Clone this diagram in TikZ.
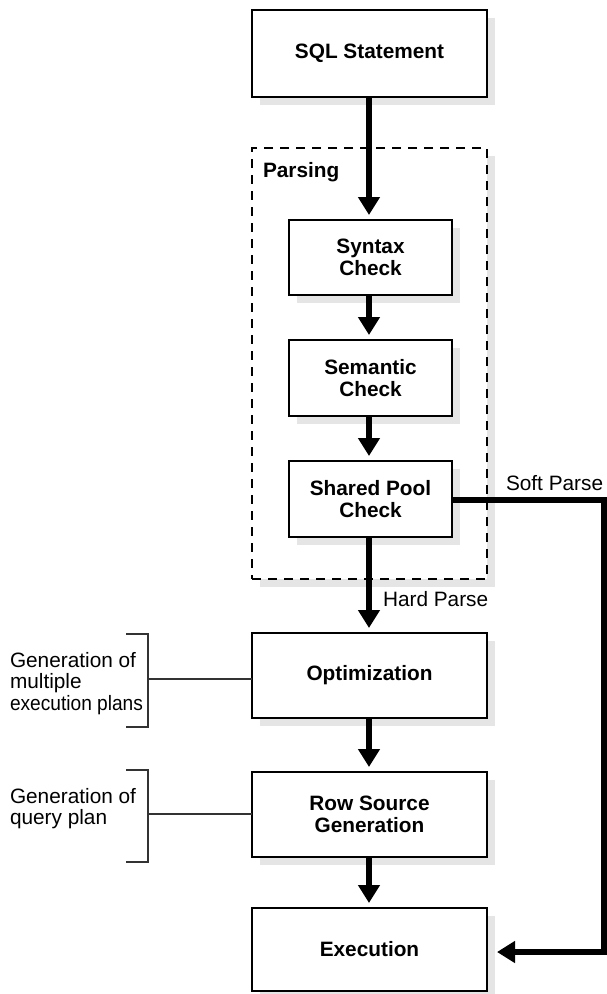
\documentclass[tikz,border=0pt]{standalone}
\usepackage{fontspec}
\setmainfont{Liberation Sans}
\usetikzlibrary{arrows.meta,shadows}
\tikzset{
  fz/.style={font=\fontsize{20.8}{21.5}\selectfont},
  shade box/.style={drop shadow={shadow xshift=8pt, shadow yshift=-8pt, fill=black!10, opacity=1}},
  stepbox/.style={draw, line width=2.7pt, fill=white, align=center, inner sep=0pt, outer sep=0pt,
    font=\fontsize{20.8}{21.5}\selectfont\bfseries, shade box},
  groupbox/.style={draw, line width=2.4pt, dash pattern=on 9pt off 7pt, fill=white, inner sep=0pt, outer sep=0pt, shade box},
  flow/.style={line width=5.5pt, -{Triangle[length=18pt,width=21pt]}, shorten >=5pt},
  bracketline/.style={line width=1.3pt, draw=black!80},
  lbl/.style={fz, inner sep=0pt, outer sep=0pt, align=left},
}
\begin{document}
\begin{tikzpicture}[x=1pt,y=-1pt]
\useasboundingbox (0,0) rectangle (606,994);

\node[groupbox, minimum width=235pt, minimum height=431pt] (parsing) at (369.5,363.5) {};
\node[lbl, font=\fontsize{20.8}{21.5}\selectfont\bfseries, anchor=west] (parsinglbl) at (263,172) {Parsing};

\node[stepbox, minimum width=235pt, minimum height=87pt] (sql) at (369.5,53.5) {SQL Statement};
\node[stepbox, minimum width=163pt, minimum height=75pt] (syntax) at (370.5,257.5) {Syntax\\Check};
\node[stepbox, minimum width=163pt, minimum height=76pt] (semantic) at (370.5,378) {Semantic\\Check};
\node[stepbox, minimum width=163pt, minimum height=76pt] (shared) at (370.5,499) {Shared Pool\\Check};
\node[stepbox, minimum width=235pt, minimum height=85pt] (opt) at (369.5,675.5) {Optimization};
\node[stepbox, minimum width=235pt, minimum height=85pt] (row) at (369.5,814.5) {Row Source\\Generation};
\node[stepbox, minimum width=235pt, minimum height=83pt] (exec) at (369.5,949.5) {Execution};

\draw[flow] (sql.south -| 369,0) -- (syntax.north -| 369,0);
\draw[flow] (syntax.south -| 369,0) -- (semantic.north -| 369,0);
\draw[flow] (semantic.south -| 369,0) -- (shared.north -| 369,0);
\draw[flow] (shared.south -| 369,0) -- (opt.north -| 369,0);
\draw[flow] (opt.south -| 369,0) -- (row.north -| 369,0);
\draw[flow] (row.south -| 369,0) -- (exec.north -| 369,0);

\coordinate (softcorner) at (604,500);
\coordinate (softin) at (604,952);
\draw[flow, shorten >=10pt] (shared.east |- softcorner) -- (softcorner) -- (softin) -- (exec.east |- softin);

\node[lbl, anchor=west] (softlbl) at (506,483) {Soft Parse};
\node[lbl, anchor=west] (hardlbl) at (383,599) {Hard Parse};

\node[lbl, anchor=north west] (gen1) at (10,652) {Generation of\\multiple\\\scalebox{0.92}[1]{execution plans}};
\node[lbl, anchor=north west] (gen2) at (10,788) {Generation of\\query plan};

\coordinate (b1) at (148,679);
\coordinate (b2) at (148,814);
\draw[bracketline] (126,634) -- (148,634) -- (148,727) -- (126,727);
\draw[bracketline] (b1) -- (b1 -| opt.west);
\draw[bracketline] (126,770) -- (148,770) -- (148,862) -- (126,862);
\draw[bracketline] (b2) -- (b2 -| row.west);
\end{tikzpicture}
\end{document}
